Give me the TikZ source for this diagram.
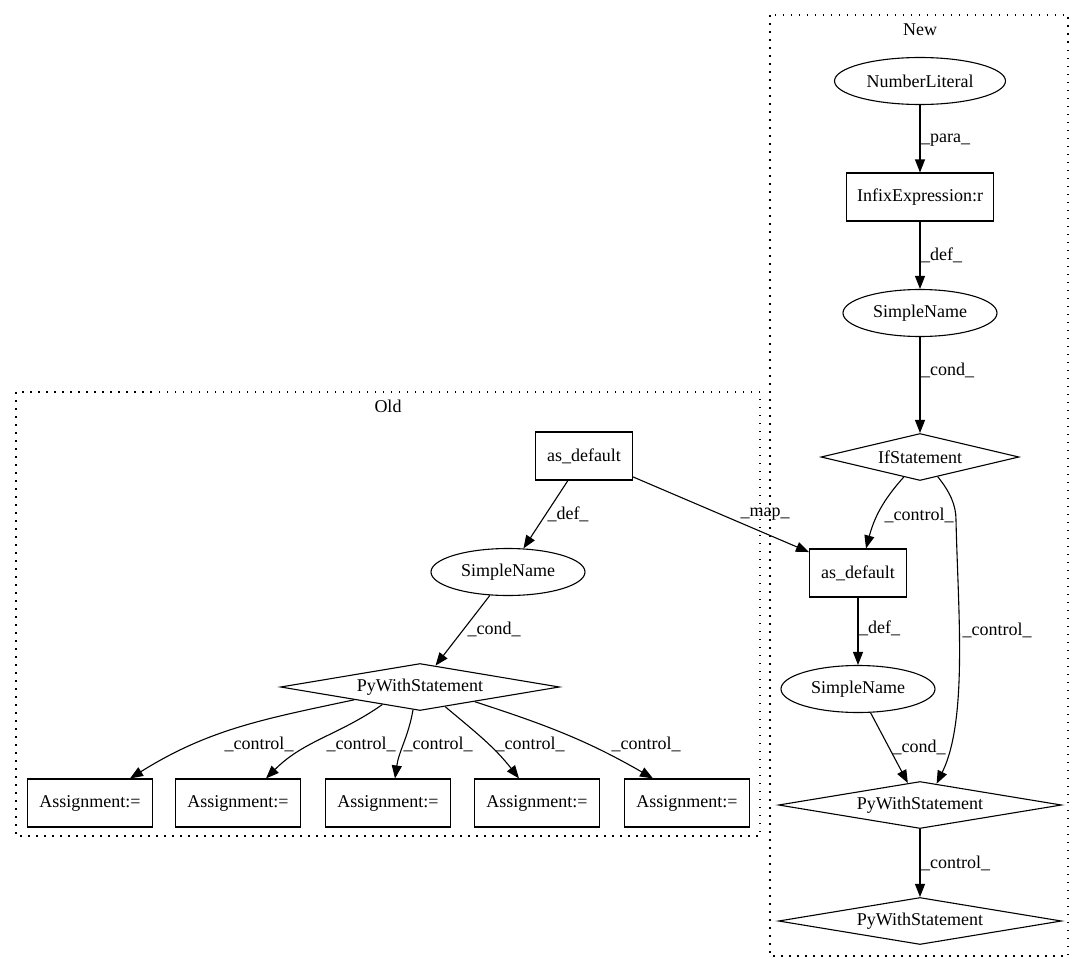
\documentclass[tikz,border=0pt]{standalone}
\usepackage{fontspec}
\setmainfont{Liberation Serif}
\usepackage[HTML]{xcolor}
\usepackage{tikz}
\usetikzlibrary{positioning, arrows, arrows.meta, shapes.geometric}

\begin{document}
\begin{tikzpicture}[x=1pt,y=1pt,
  font=\fontsize{18}{21}\selectfont,
  ellnode/.style={draw,ellipse,line width=1.1pt,inner sep=0pt,minimum height=47pt},
  boxnode/.style={draw,rectangle,line width=1.1pt,inner sep=0pt,minimum height=48pt},
  dianode/.style={draw,diamond,aspect=6,line width=1.1pt,inner sep=0pt,minimum height=47pt},
  conn/.style={-{Triangle[length=13pt,width=10pt]},line width=1.1pt},
  lbl/.style={inner sep=0pt},
  cluster/.style={line width=1.1pt,dash pattern=on 1.5pt off 6.5pt}]
\useasboundingbox (0,0) rectangle (1085,-972);

% clusters
\draw[cluster] (16,-392) rectangle (760,-836);
\draw[cluster] (770,-15) rectangle (1068,-956);
\node[lbl] (oldtitle) at (388,-406) {Old};
\node[lbl] (newtitle) at (920,-30) {New};

% new
\node[ellnode,minimum width=171pt] (numlit) at (920,-81) {NumberLiteral};
\node[boxnode,minimum width=147pt] (infix) at (920,-197) {InfixExpression:r};
\node[ellnode,minimum width=154pt] (snnew) at (920,-313) {SimpleName};
\node[dianode,minimum width=198pt] (ifst) at (920,-457) {IfStatement};
\node[boxnode,minimum width=97pt] (asnew) at (858,-573) {as\_default};
\node[ellnode,minimum width=154pt] (snnew2) at (858,-689) {SimpleName};
\node[dianode,minimum width=283pt] (pwnew) at (920,-805) {PyWithStatement};
\node[dianode,minimum width=283pt] (pwlast) at (920,-921) {PyWithStatement};

% old
\node[boxnode,minimum width=97pt] (asold) at (584,-456) {as\_default};
\node[ellnode,minimum width=154pt] (snold) at (508,-572) {SimpleName};
\node[dianode,minimum width=279pt] (pwold) at (420,-687) {PyWithStatement};
\foreach \i/\x in {1/90,2/238,3/388,4/537,5/687}
  \node[boxnode,minimum width=125pt] (asg\i) at (\x,-803) {Assignment:=};

% edges
\draw[conn] (numlit) -- (infix);
\draw[conn] (infix) -- (snnew);
\draw[conn] (snnew) -- (ifst);
\draw[conn] (ifst.231) to[out=228,in=75] ([xshift=8pt]asnew.north);
\draw[conn] (ifst.312) .. controls (950,-492) and (956,-505) .. (956,-520)
  .. controls (958,-610) and (968,-720) .. (pwnew.52);
\draw[conn] (asold) -- (asnew);
\draw[conn] (asnew) -- (snnew2);
\draw[conn] (snnew2) -- (pwnew.119);
\draw[conn] (pwnew) -- (pwlast);
\draw[conn] (asold) -- (snold);
\draw[conn] (snold) -- (pwold.54);
\draw[conn] (pwold.191) to[out=192,in=32] ([xshift=40pt]asg1.north);
\draw[conn] (pwold.205) to[out=215,in=45] ([xshift=28pt]asg2.north);
\draw[conn] (pwold.253) to[out=260,in=82] ([xshift=7pt]asg3.north);
\draw[conn] (pwold.322) to[out=320,in=128] ([xshift=-18pt]asg4.north);
\draw[conn] (pwold.345) to[out=342,in=150] ([xshift=-34pt]asg5.north);

% edge labels
\node[lbl,anchor=west] (lpara) at (921,-140) {\_para\_};
\node[lbl,anchor=west] (ldefnew) at (921,-255) {\_def\_};
\node[lbl,anchor=west] (lcondnew) at (921,-370) {\_cond\_};
\node[lbl] (lctrlif) at (919,-515) {\_control\_};
\node[lbl] (lctrlpw) at (997,-630) {\_control\_};
\node[lbl] (lmap) at (765,-514) {\_map\_};
\node[lbl,anchor=west] (ldefnew2) at (859,-628) {\_def\_};
\node[lbl] (lcondnew2) at (919,-747) {\_cond\_};
\node[lbl,anchor=west] (lctrllast) at (921,-863) {\_control\_};
\node[lbl] (ldefold) at (568,-514) {\_def\_};
\node[lbl] (lcondold) at (494,-629) {\_cond\_};
\foreach \i/\x in {1/259,2/361,3/438,4/530,5/646}
  \node[lbl] (lctrl\i) at (\x,-744) {\_control\_};
\end{tikzpicture}
\end{document}
